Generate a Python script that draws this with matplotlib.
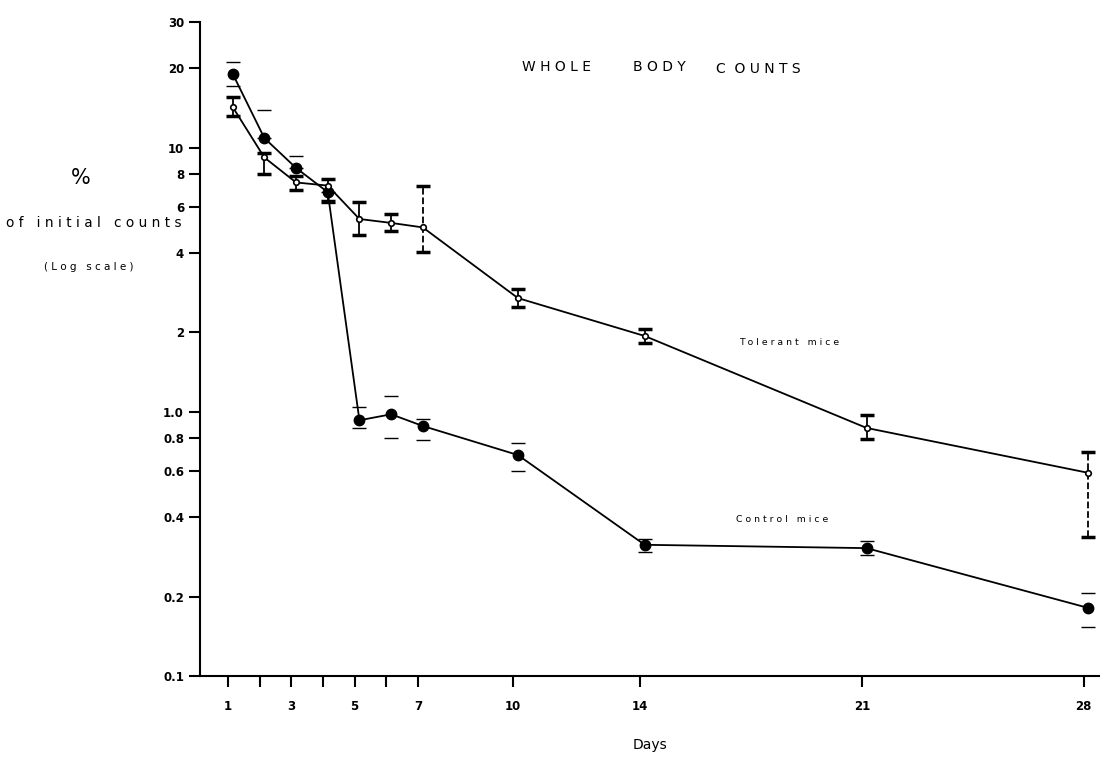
import matplotlib
matplotlib.use("Agg")
import matplotlib.pyplot as plt
import numpy as np

# days of measurement (points are drawn slightly right of the tick, as in the original)
DAYS = [1, 2, 3, 4, 5, 6, 7, 10, 14, 21, 28]

# control mice (filled circles)
CONTROL = [19.1, 10.9, 8.4, 6.8, 0.93, 0.98, 0.885, 0.687, 0.314, 0.305, 0.181]
CONTROL_HI = [21.2, 13.9, 9.3, 6.8, 1.045, 1.15, 0.94, 0.76, 0.33, 0.325, 0.206]
CONTROL_LO = [17.2, 10.9, 8.4, 6.2, 0.87, 0.80, 0.78, 0.60, 0.295, 0.287, 0.153]

# tolerant mice (open circles)
TOLERANT = [14.3, 9.2, 7.4, 7.2, 5.38, 5.2, 5.0, 2.70, 1.94, 0.87, 0.588]
TOLERANT_HI = [15.6, 9.6, 7.8, 7.6, 6.25, 5.6, 7.2, 2.92, 2.06, 0.974, 0.705]
TOLERANT_LO = [13.2, 8.0, 6.9, 6.3, 4.68, 4.85, 4.03, 2.50, 1.83, 0.79, 0.336]
TOLERANT_DASHED = [7, 28]

Y_TICKS = [0.1, 0.2, 0.4, 0.6, 0.8, 1.0, 2, 4, 6, 8, 10, 20, 30]
Y_LABELS = ["0.1", "0.2", "0.4", "0.6", "0.8", "1.0", "2", "4", "6", "8", "10", "20", "30"]
X_TICKS = [1, 2, 3, 4, 5, 6, 7, 10, 14, 21, 28]
X_LABELS = ["1", "", "3", "", "5", "", "7", "10", "14", "21", "28"]

fig = plt.figure(figsize=(11.05, 7.57), dpi=100)
ax = fig.add_axes([0.181, 0.107, 0.814, 0.864])

xs = np.array(DAYS, dtype=float) + 0.15
ctl = np.array(CONTROL)
tol = np.array(TOLERANT)

# control: thin caps only
ax.plot(xs, ctl, color="black", lw=1.3, zorder=3)
ax.errorbar(xs, ctl, yerr=[ctl - np.array(CONTROL_LO), np.array(CONTROL_HI) - ctl],
            fmt="none", ecolor="black", elinewidth=0, capsize=5, capthick=1.0, zorder=2)
ax.plot(xs, ctl, "o", color="black", ms=7.5, zorder=4)

# tolerant: thick caps with bars, dashed for days 7 and 28
ax.plot(xs, tol, color="black", lw=1.3, zorder=3)
for d, x, y, lo, hi in zip(DAYS, xs, tol, TOLERANT_LO, TOLERANT_HI):
    ls = "--" if d in TOLERANT_DASHED else "-"
    ax.plot([x, x], [lo, hi], color="black", lw=1.3, ls=ls, zorder=2)
    ax.errorbar([x], [y], yerr=[[y - lo], [hi - y]], fmt="none", ecolor="black",
                elinewidth=0, capsize=5, capthick=2.5, zorder=2)
ax.plot(xs, tol, "o", color="black", mfc="white", mew=1.2, ms=4, zorder=5)

ax.set_yscale("log")
ax.set_ylim(0.1, 30)
ax.set_xlim(0.12, 28.5)
ax.set_yticks(Y_TICKS)
ax.set_yticklabels(Y_LABELS)
ax.minorticks_off()
ax.set_xticks(X_TICKS)
ax.set_xticklabels(X_LABELS)
ax.tick_params(axis="both", direction="out", length=8, width=1.5, labelsize=8.5)
ax.tick_params(axis="x", pad=9)
for lab in ax.get_xticklabels() + ax.get_yticklabels():
    lab.set_fontweight("bold")
ax.spines["top"].set_visible(False)
ax.spines["right"].set_visible(False)
ax.spines["left"].set_linewidth(1.5)
ax.spines["bottom"].set_linewidth(1.5)

ax.set_xlabel("Days", fontsize=10, labelpad=18)

# title, one word at a time (wide spacing as in the original)
fig.text(0.504, 0.911, "W H O L E", fontsize=10, ha="center", va="center")
fig.text(0.597, 0.911, "B O D Y", fontsize=10, ha="center", va="center")
fig.text(0.686, 0.909, "C  O U N T S", fontsize=10, ha="center", va="center")

fig.text(0.073, 0.765, "%", fontsize=15, ha="center", va="center")
fig.text(0.085, 0.706, "o f   i n i t i a l   c o u n t s", fontsize=9.8, ha="center", va="center")
fig.text(0.080, 0.647, "( L o g   s c a l e )", fontsize=7.5, ha="center", va="center")
ax.text(18.7, 1.83, "T o l e r a n t   m i c e", fontsize=6.7, ha="center", va="center")
ax.text(18.5, 0.39, "C o n t r o l   m i c e", fontsize=6.7, ha="center", va="center")

fig.savefig("out.png", dpi=100)
